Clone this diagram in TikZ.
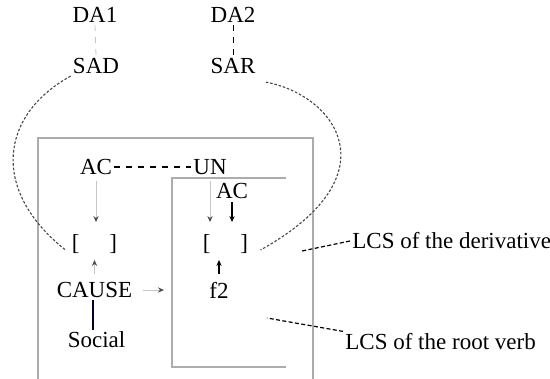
\documentclass[tikz,border=0pt]{standalone}
\usepackage{fontspec}
\setmainfont{Liberation Serif}
\usetikzlibrary{arrows.meta}
\begin{document}
\begin{tikzpicture}[x=0.5pt,y=-0.5pt,
  every node/.style={inner sep=1pt,font=\fontsize{11.5}{13}\selectfont},
  frame/.style={draw=gray!65,line width=0.9pt},
  tie/.style={dash pattern=on 1.3pt off 0.9pt,gray!55!black,line width=0.55pt},
  lead/.style={dash pattern=on 2pt off 1.2pt,black,line width=0.6pt},
  pale/.style={gray!45,line width=0.5pt,-{Stealth[length=3pt,width=2.6pt,black!70]}},
  dark/.style={black,line width=0.6pt,-{Stealth[length=3pt,width=2.6pt]}}]
\useasboundingbox (0,0) rectangle (550,379);
% the two frames
\draw[frame] (38,379)--(38,138)--(313,138)--(313,379);
\draw[frame] (286,178)--(172,178)--(172,367)--(286,367);
% top of the tree
\node (da1) at (95,15) {DA1};\node (sad) at (96,66) {SAD};
\node (da2) at (233,15) {DA2};\node (sar) at (233,66) {SAR};
\draw[dashed,gray!45] (da1.south)--(sad.north);
\draw[dashed,black] (da2.south)--(sar.north);
% inside the frames
\node (ac1) at (96,167) {AC};\node (un) at (210,167) {UN};
\node (ac2) at (232,191) {AC};
\node (lb) at (94.5,244) {[\hspace{1.3em}]};
\node (rb) at (225.5,244) {[\hspace{1.3em}]};
\node (cause) at (94.5,290) {CAUSE};\node (f2) at (219,290) {f2};
\node (social) at (96.5,340) {Social};
\draw[dashed,black,line width=0.6pt] (ac1.east)--(un.west);
\draw[pale,shorten <=2pt,shorten >=5pt] (ac1.south)--(ac1.south |- lb.north);
\draw[pale,shorten <=2pt,shorten >=5pt] (un.south)--(un.south |- lb.north);
\draw[dark,shorten <=0.5pt,shorten >=5pt] (ac2.south)--(ac2.south |- rb.north);
\draw[pale,shorten <=3pt,shorten >=2pt] (cause.north)--(cause.north |- lb.south);
\draw[dark,shorten <=3pt,shorten >=2pt] (f2.north)--(f2.north |- rb.south);
\draw[black!85!blue,line width=1pt] ([xshift=-1pt]cause.south)--([xshift=-1pt]cause.south |- social.north);
\draw[pale,shorten <=4pt,shorten >=4pt] (cause.east)--(cause.east -| 172,0);
% the long links
\draw[tie] (sad.south west) .. controls (0,115) and (-10,190) .. ([shift={(-2pt,-3pt)}]lb.west);
\draw[tie] ([shift={(4pt,-3pt)}]sar.south east) .. controls (335,95) and (395,175) .. ([shift={(5pt,-3pt)}]rb.east);
% labels on the right
\node[anchor=west] (lcsd) at (350,241) {LCS of the derivative};
\node[anchor=west] (lcsr) at (343,342) {LCS of the root verb};
\coordinate (pd) at (302,251);\coordinate (pr) at (267,318);
\draw[lead] (lcsd.west)--(pd);
\draw[lead] (lcsr.north west)--(pr);
\end{tikzpicture}
\end{document}
